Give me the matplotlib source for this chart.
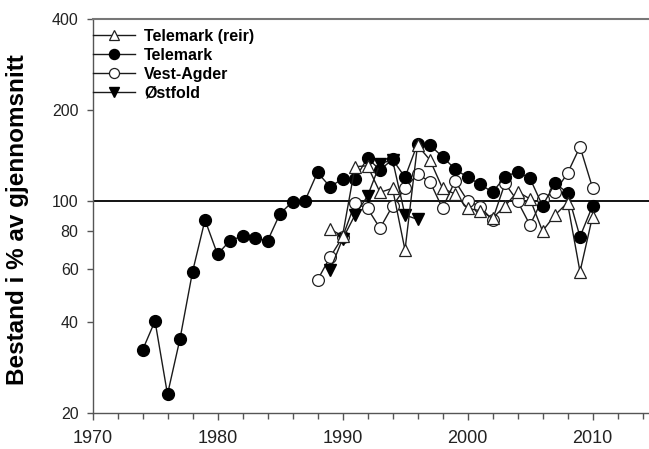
import matplotlib
matplotlib.use("Agg")
import matplotlib.pyplot as plt

plt.rcParams['font.family'] = ['Liberation Sans', 'DejaVu Sans']

# ---- data ----
tm_years = list(range(1974, 2011))
tm_vals = [32.3, 40.3, 23.1, 35.2, 58.5, 86.8, 66.9, 74.2, 76.8, 75.9, 74.0,
           91.0, 99.7, 100.5, 124.5, 111.7, 118.5, 118.5, 138.9, 126.8, 137.5,
           120.0, 154.5, 153.0, 140.3, 127.8, 120.0, 114.0, 107.1, 120.5, 125.2,
           119.0, 96.7, 114.6, 106.8, 76.4, 96.5]

reir_years = list(range(1989, 2011))
reir_vals = [81.0, 76.8, 130.0, 131.0, 107.0, 110.4, 69.1, 153.0, 136.8, 110.4,
             105.7, 94.8, 93.1, 87.9, 96.5, 107.6, 101.8, 79.8, 90.1, 98.9,
             58.6, 89.0]

va_years = list(range(1988, 2011))
va_vals = [55.0, 65.4, 76.1, 98.5, 94.8, 81.5, 96.5, 110.4, 123.0, 116.0, 94.8,
           116.7, 100.5, 96.0, 86.8, 114.6, 100.2, 83.5, 101.8, 107.6, 123.7,
           151.3, 110.9]

of_years = list(range(1989, 1997))
of_vals = [59.3, 75.0, 90.1, 104.0, 133.0, 137.0, 90.1, 87.2]

labels = ["Telemark (reir)", "Telemark", "Vest-Agder", "Østfold"]
yticks = [20, 40, 60, 80, 100, 200, 400]
xticks = [1970, 1980, 1990, 2000, 2010]

W, H = 649, 449
fig = plt.figure(figsize=(W / 100, H / 100), dpi=100)
left, right_px, top_px, bottom_px = 92.5, 648.75, 18.7, 413.3
ax = fig.add_axes([left / W, (H - bottom_px) / H, (right_px - left) / W,
                   (bottom_px - top_px) / H])

lc = '#1a1a1a'
lw = 1.0
ms = 8.5
h_reir, = ax.plot(reir_years, reir_vals, color=lc, lw=lw, marker='^', ms=ms,
                  mfc='white', mec='#222222', mew=0.9, zorder=6)
h_tm, = ax.plot(tm_years, tm_vals, color=lc, lw=lw, marker='o', ms=ms,
                mfc='black', mec='black', zorder=4)
h_va, = ax.plot(va_years, va_vals, color=lc, lw=lw, marker='o', ms=ms,
                mfc='white', mec='#222222', mew=0.9, zorder=3)
h_of, = ax.plot(of_years, of_vals, color=lc, lw=lw, marker='v', ms=ms,
                mfc='black', mec='black', zorder=5)

ax.axhline(100, color='black', lw=1.3, zorder=2)

ax.set_yscale('log')
ax.set_ylim(20, 400)
ax.set_xlim(1970, 2014.5)
ax.set_yticks(yticks)
ax.set_yticklabels([str(v) for v in yticks])
ax.yaxis.set_minor_locator(matplotlib.ticker.NullLocator())
ax.set_xticks(xticks)
ax.set_xticklabels([str(v) for v in xticks])
ax.set_xticks(list(range(1970, 2015, 2)), minor=True)

spc = '#555555'
for s in ['left', 'bottom', 'top']:
    ax.spines[s].set_color(spc)
    ax.spines[s].set_linewidth(1.0)
ax.spines['right'].set_visible(False)
ax.spines['top'].set_color('#777777')
ax.spines['top'].set_linewidth(1.5)

ax.tick_params(axis='x', which='major', direction='out', length=5, width=1,
               color=spc, labelsize=13, labelcolor='#222222', pad=7)
ax.tick_params(axis='x', which='minor', direction='out', length=4, width=1,
               color=spc)
ax.tick_params(axis='y', which='major', direction='out', length=4, width=1,
               color=spc, labelsize=11.5, labelcolor='#222222', pad=6)

fig.text(18 / W, (H - 220) / H, "Bestand i % av gjennomsnitt", rotation=90,
         ha='center', va='center', fontsize=17.5, fontweight='bold')

leg = ax.legend([h_reir, h_tm, h_va, h_of], labels, loc='upper left',
                bbox_to_anchor=(93 / W, (H - 29) / H),
                bbox_transform=fig.transFigure, frameon=False,
                prop={'weight': 'bold', 'size': 11.5}, handlelength=2.6,
                handletextpad=0.6, labelspacing=0.25, borderpad=0,
                borderaxespad=0, markerscale=0.85)

fig.savefig("out.png", dpi=100)
